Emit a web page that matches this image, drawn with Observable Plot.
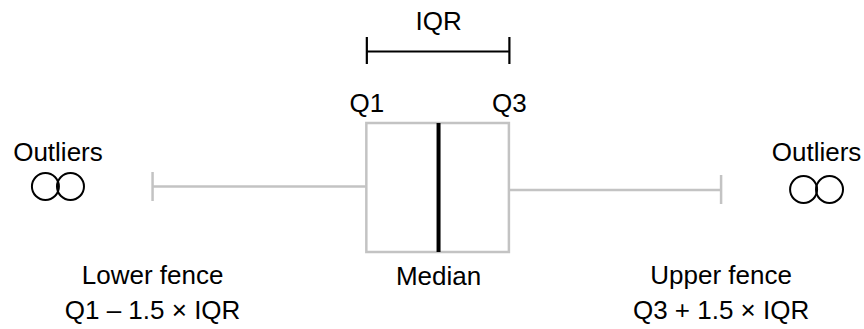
<!DOCTYPE html>
<html>
<head>
<meta charset="utf-8">
<script src="https://cdn.jsdelivr.net/npm/d3@7"></script>
<script src="https://cdn.jsdelivr.net/npm/@observablehq/plot@0.6"></script>
<style>
  html, body { margin: 0; padding: 0; background: #fff; }
  #chart { width: 864px; height: 329px; }
</style>
</head>
<body>
<div id="chart"></div>
<script>
// Schematic box-plot values (x in arbitrary data units, 0–100)
const statNames = ["Lower fence", "Q1", "Median", "Q3", "Upper fence"];
const statValues = [17.6, 42.4, 50.7, 58.9, 83.4];
const outliersLow = [5.2, 8.1];
const outliersHigh = [92.95, 95.95];

const v = Object.fromEntries(statNames.map((n, i) => [n, statValues[i]]));
const lowFence = v["Lower fence"], q1 = v["Q1"], med = v["Median"], q3 = v["Q3"], upFence = v["Upper fence"];

const labels = [
  {text: "IQR", x: med, row: "iqr"},
  {text: "Q1", x: q1, row: "q"},
  {text: "Q3", x: q3, row: "q"},
  {text: "Outliers", x: d3.mean(outliersLow), row: "out"},
  {text: "Outliers", x: d3.mean(outliersHigh), row: "out"},
  {text: "Lower fence\nQ1 – 1.5 × IQR", x: lowFence, row: "bottom"},
  {text: "Median", x: med, row: "mid"},
  {text: "Upper fence\nQ3 + 1.5 × IQR", x: upFence, row: "bottom"}
];
const rowY = {iqr: 29, q: 111, out: 160, mid: 284, bottom: 318};

const gray = "#c3c3c3";
const font = "Liberation Sans, Arial, Helvetica, sans-serif";

const chart = Plot.plot({
  width: 864,
  height: 329,
  margin: 0,
  x: {domain: [0, 100], range: [0, 864], axis: null},
  y: {domain: [0, 329], range: [0, 329], axis: null},
  style: {fontFamily: font, background: "#fff", color: "#000"},
  marks: [
    // whiskers
    Plot.ruleY([186], {x1: lowFence, x2: q1, stroke: gray, strokeWidth: 2.5}),
    Plot.ruleY([189.5], {x1: q3, x2: upFence, stroke: gray, strokeWidth: 2.5}),
    // fence caps
    Plot.ruleX([lowFence], {y1: 172, y2: 201, stroke: gray, strokeWidth: 2.5}),
    Plot.ruleX([upFence], {y1: 175, y2: 204, stroke: gray, strokeWidth: 2.5}),
    // box
    Plot.rect([{}], {x1: q1, x2: q3, y1: 123, y2: 252, fill: "#fff", stroke: gray, strokeWidth: 2.5}),
    // median
    Plot.ruleX([med], {y1: 123, y2: 252, stroke: "#000", strokeWidth: 4}),
    // IQR bracket
    Plot.ruleY([51], {x1: q1, x2: q3, stroke: "#000", strokeWidth: 2.2}),
    Plot.ruleX([q1, q3], {y1: 37, y2: 64, stroke: "#000", strokeWidth: 2.2}),
    // outliers
    Plot.dot(outliersLow, {x: d => d, y: 186, r: 13.5, stroke: "#000", strokeWidth: 2, fill: "none"}),
    Plot.dot(outliersHigh, {x: d => d, y: 189, r: 13.5, stroke: "#000", strokeWidth: 2, fill: "none"}),
    // labels
    Plot.text(labels, {
      x: "x",
      y: d => rowY[d.row],
      text: "text",
      textAnchor: "middle",
      lineAnchor: "bottom",
      lineHeight: 1.31,
      fontSize: 26,
      fill: "#000"
    })
  ]
});
document.getElementById("chart").appendChild(chart);
</script>
</body>
</html>
